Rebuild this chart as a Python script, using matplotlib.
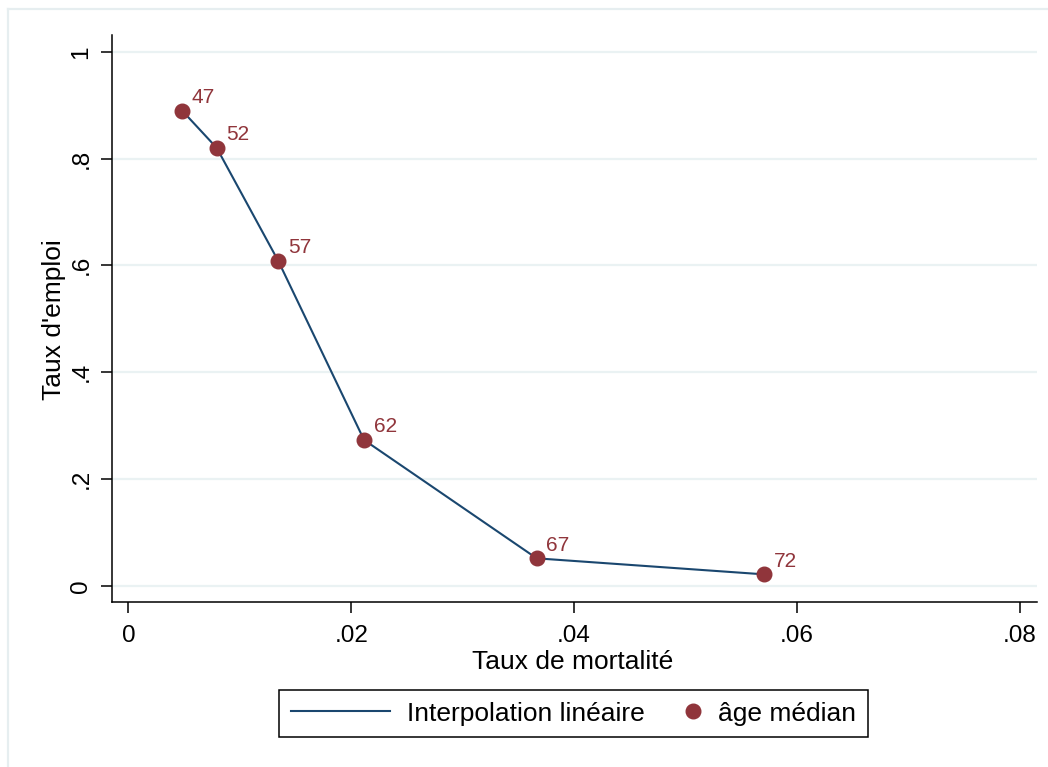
import matplotlib
matplotlib.use("Agg")
import matplotlib.pyplot as plt
from matplotlib.lines import Line2D
from matplotlib.legend_handler import HandlerLine2D

plt.rcParams['font.family'] = ['Liberation Sans', 'DejaVu Sans']

# values
taux_mortalite = [0.00484, 0.00793, 0.01346, 0.02115, 0.03664, 0.05703]
taux_emploi = [0.8895, 0.820, 0.608, 0.273, 0.0513, 0.0213]
age_median = [47, 52, 57, 62, 67, 72]

xticks = [0, 0.02, 0.04, 0.06, 0.08]
xtick_labels = ["0", ".02", ".04", ".06", ".08"]
yticks = [0, 0.2, 0.4, 0.6, 0.8, 1.0]
ytick_labels = ["0", ".2", ".4", ".6", ".8", "1"]

line_color = '#1A476F'
marker_color = '#90353B'
grid_color = '#EAF2F3'


class RightMarker(HandlerLine2D):
    # put the single marker at the right end of the handle box
    def get_xdata(self, legend, xdescent, ydescent, width, height, fontsize):
        x = -xdescent + width - 5.8
        return [x - 1, x + 1], [x]


def main():
    W, H = 1048, 767
    fig = plt.figure(figsize=(W / 100, H / 100), dpi=100)
    fig.patch.set_facecolor('white')

    # light graph-region border (top and left visible)
    fig.add_artist(Line2D([8 / W, 1.0], [1 - 9 / H, 1 - 9 / H],
                          color='#E6EEF0', lw=1.6, transform=fig.transFigure))
    fig.add_artist(Line2D([8 / W, 8 / W], [0.0, 1 - 9 / H],
                          color='#E6EEF0', lw=1.6, transform=fig.transFigure))

    ax = fig.add_axes([0.1066, 0.2147, 0.8829, 0.7396])
    ax.set_xlim(-0.00149, 0.08153)
    ax.set_ylim(-0.0311, 1.0313)

    for s in ['top', 'right']:
        ax.spines[s].set_visible(False)
    for s in ['left', 'bottom']:
        ax.spines[s].set_linewidth(1.1)
        ax.spines[s].set_color('black')

    ax.set_yticks(yticks)
    ax.set_yticklabels(ytick_labels)
    ax.set_xticks(xticks)
    ax.set_xticklabels(xtick_labels)
    ax.tick_params(axis='both', direction='out', length=8, width=1.1,
                   labelsize=17.5, pad=8, color='black')
    ax.tick_params(axis='y', labelrotation=90, pad=6)
    for lab in ax.get_yticklabels():
        lab.set_va('center')

    ax.grid(axis='y', color=grid_color, lw=1.6)
    ax.set_axisbelow(True)

    ln, = ax.plot(taux_mortalite, taux_emploi, color=line_color, lw=1.5,
                  zorder=2, label='Interpolation linéaire')
    pts, = ax.plot(taux_mortalite, taux_emploi, 'o', color=marker_color,
                   markersize=10.5, zorder=3, label='âge médian')

    for x, y, a in zip(taux_mortalite, taux_emploi, age_median):
        ax.annotate(str(a), (x, y), xytext=(7, 9.5), textcoords='offset points',
                    ha='left', va='center', fontsize=15, color=marker_color)

    ax.set_xlabel('Taux de mortalité', fontsize=19, va='baseline')
    ax.xaxis.set_label_coords(0.4985, -0.1176)
    ax.set_ylabel("Taux d'emploi", fontsize=19, va='baseline')
    ax.yaxis.set_label_coords(-0.0552, 0.4978)

    leg = fig.legend(handles=[ln, pts], loc='center',
                     bbox_to_anchor=(573.5 / W, 1 - 713.5 / H), ncol=2,
                     fontsize=19, handlelength=3.75, handletextpad=0.64,
                     columnspacing=-1.63, borderpad=0.45, fancybox=False,
                     framealpha=1, edgecolor='black',
                     handler_map={pts: RightMarker()})
    leg.get_frame().set_linewidth(1.1)

    fig.savefig('out.png', dpi=100)


if __name__ == "__main__":
    main()
